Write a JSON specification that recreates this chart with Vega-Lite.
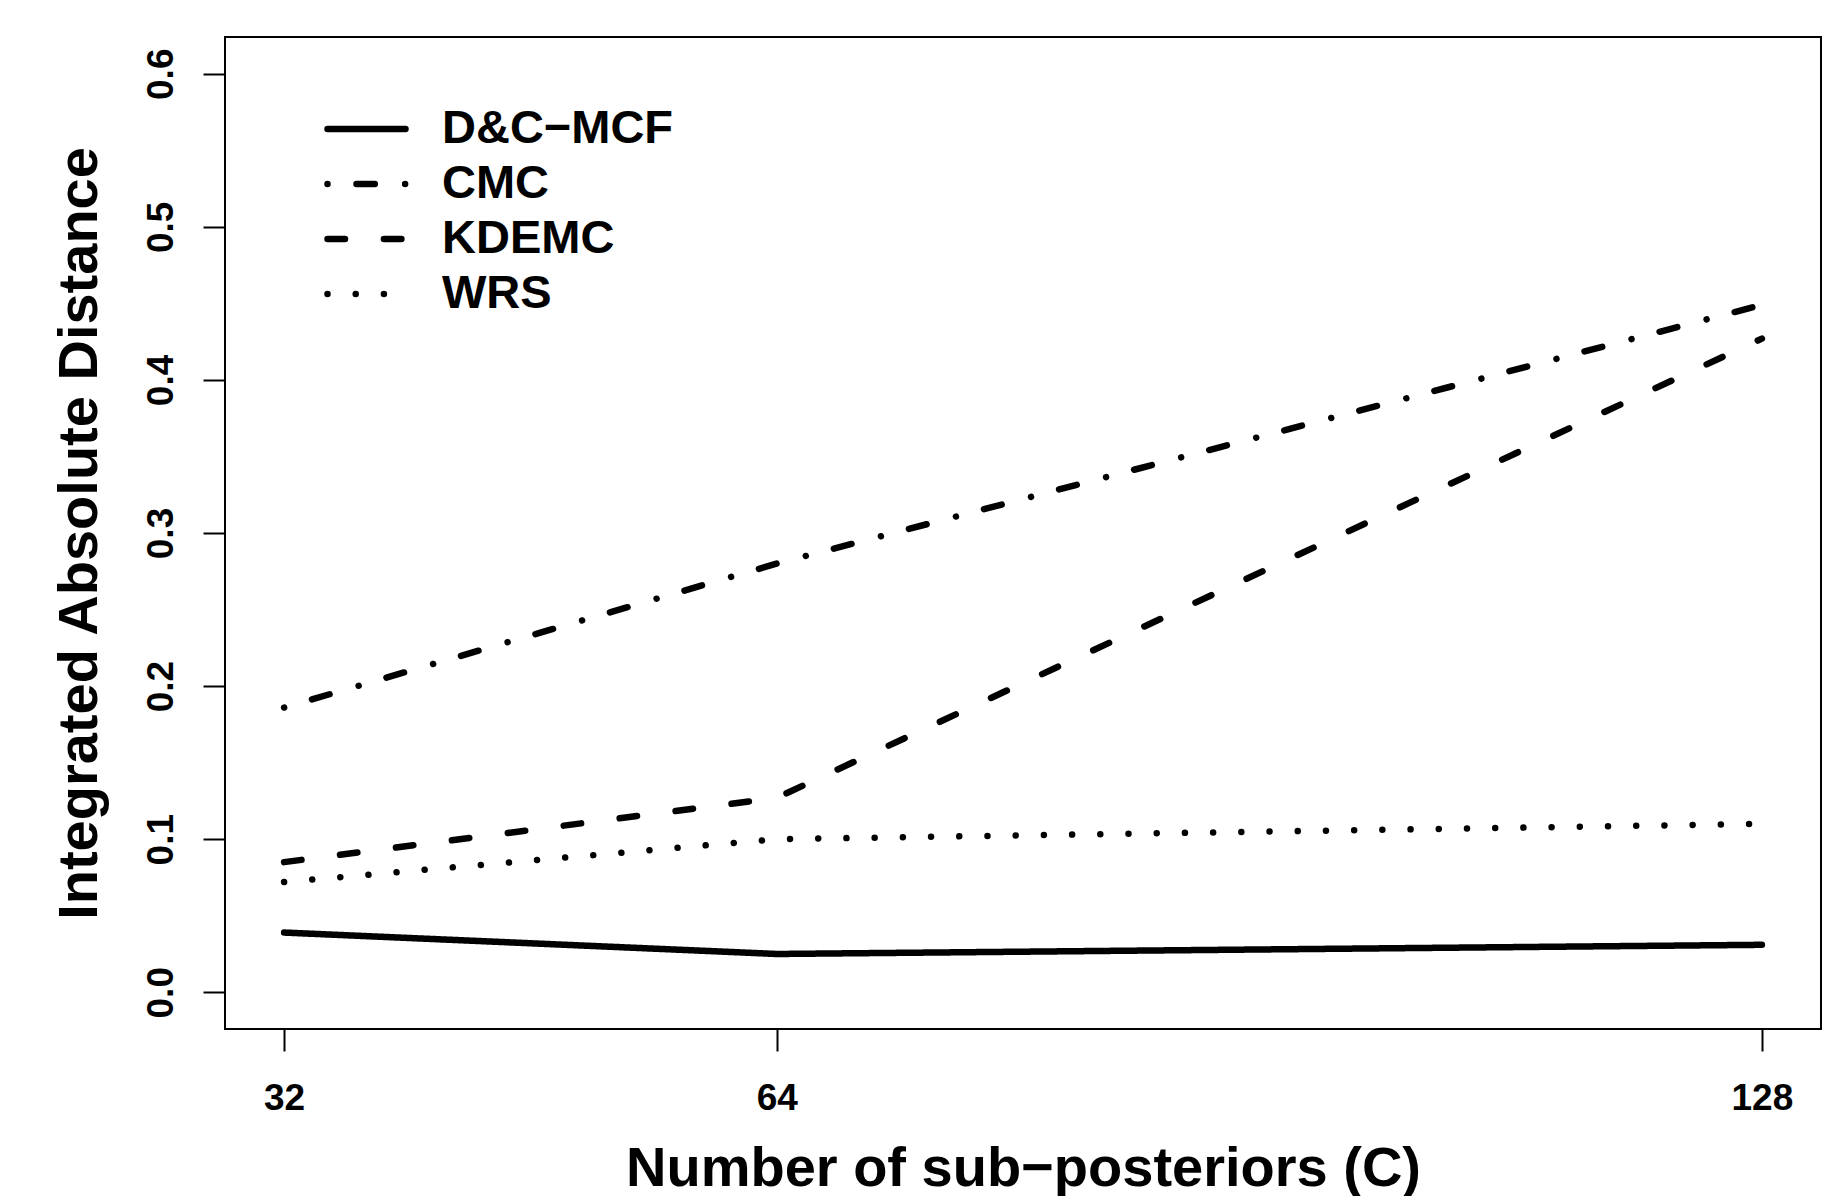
{
  "$schema": "https://vega.github.io/schema/vega-lite/v6.json",
  "width": 1596,
  "height": 992,
  "autosize": "none",
  "padding": {"left": 225, "top": 37, "right": 3, "bottom": 167},
  "background": "white",
  "config": {
    "view": {"stroke": "black", "strokeWidth": 2},
    "font": "Liberation Sans"
  },
  "data": {
    "values": [
      {"method": "D&C−MCF", "C": 32, "value": 0.039},
      {"method": "D&C−MCF", "C": 64, "value": 0.025},
      {"method": "D&C−MCF", "C": 128, "value": 0.031},
      {"method": "CMC", "C": 32, "value": 0.186},
      {"method": "CMC", "C": 64, "value": 0.280},
      {"method": "CMC", "C": 128, "value": 0.449},
      {"method": "KDEMC", "C": 32, "value": 0.085},
      {"method": "KDEMC", "C": 64, "value": 0.127},
      {"method": "KDEMC", "C": 128, "value": 0.427},
      {"method": "WRS", "C": 32, "value": 0.072},
      {"method": "WRS", "C": 64, "value": 0.100},
      {"method": "WRS", "C": 128, "value": 0.110}
    ]
  },
  "mark": {"type": "line", "color": "black", "strokeWidth": 6.5, "strokeCap": "round", "strokeJoin": "round"},
  "encoding": {
    "x": {
      "field": "C",
      "type": "quantitative",
      "scale": {"domain": [28.16, 131.84], "nice": false, "zero": false},
      "axis": {
        "values": [32, 64, 128],
        "title": "Number of sub−posteriors (C)",
        "titleFont": "Liberation Sans",
        "titleFontSize": 56,
        "titleFontWeight": "bold",
        "titleColor": "black",
        "titleBaseline": "alphabetic",
        "titleAlign": "center",
        "titleX": 798,
        "titleY": 156,
        "labelFont": "Liberation Sans",
        "labelFontSize": 37,
        "labelFontWeight": "bold",
        "labelColor": "black",
        "labelPadding": 29,
        "labelFlush": false,
        "labelOverlap": false,
        "domain": false,
        "grid": false,
        "ticks": true,
        "tickSize": 22,
        "tickWidth": 2,
        "tickColor": "black"
      }
    },
    "y": {
      "field": "value",
      "type": "quantitative",
      "scale": {"domain": [-0.024, 0.624], "nice": false, "zero": false},
      "axis": {
        "values": [0, 0.1, 0.2, 0.3, 0.4, 0.5, 0.6],
        "format": ".1f",
        "title": "Integrated Absolute Distance",
        "titleFont": "Liberation Sans",
        "titleFontSize": 56,
        "titleFontWeight": "bold",
        "titleColor": "black",
        "titleAngle": 270,
        "titleBaseline": "alphabetic",
        "titleAlign": "center",
        "titleX": -129,
        "titleY": 496,
        "labelFont": "Liberation Sans",
        "labelFontSize": 37,
        "labelFontWeight": "bold",
        "labelColor": "black",
        "labelAngle": 270,
        "labelAlign": "center",
        "labelBaseline": "alphabetic",
        "labelPadding": 31,
        "labelFlush": false,
        "labelOverlap": false,
        "domain": false,
        "grid": false,
        "ticks": true,
        "tickSize": 22,
        "tickWidth": 2,
        "tickColor": "black"
      }
    },
    "strokeDash": {
      "field": "method",
      "type": "nominal",
      "scale": {
        "domain": ["D&C−MCF", "CMC", "KDEMC", "WRS"],
        "range": [[1, 0], [0.01, 29, 18.3, 30.3], [17.5, 38.9], [0.01, 28.2]]
      },
      "legend": {
        "title": null,
        "orient": "none",
        "legendX": 99,
        "legendY": 67,
        "padding": 0,
        "symbolType": "stroke",
        "symbolSize": 6084,
        "symbolStrokeWidth": 6.5,
        "symbolStrokeColor": "black",
        "labelFont": "Liberation Sans",
        "labelFontSize": 47,
        "labelFontWeight": "bold",
        "labelColor": "black",
        "labelOffset": 33,
        "labelLimit": 0,
        "clipHeight": 50,
        "rowPadding": 5,
        "encode": {"symbols": {"update": {"strokeCap": {"value": "round"}}}}
      }
    }
  }
}
